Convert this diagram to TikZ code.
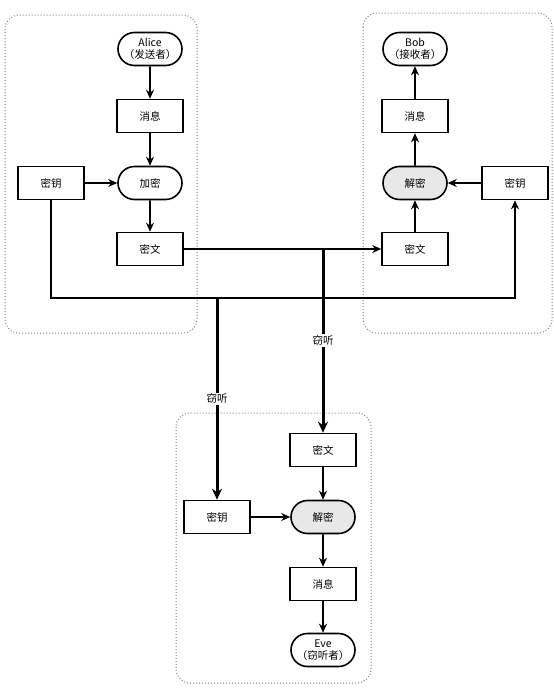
\documentclass[tikz,border=0pt]{standalone}
\usepackage{fontspec}
\setmainfont{Noto Sans CJK SC}
\usetikzlibrary{arrows.meta,shapes.misc,positioning}

\begin{document}
\begin{tikzpicture}[x=1pt,y=-1pt,>={Stealth[length=9pt,width=8pt]},line width=1.6pt,
    box/.style={draw,minimum width=66pt,minimum height=33pt,inner sep=1pt,
      font=\fontsize{10.5}{12.5}\selectfont},
    pill/.style={box,rounded rectangle,align=center},
    grey pill/.style={pill,fill=gray!18},
    frame/.style={draw=gray,dotted,line width=1pt,rounded corners=14pt},
    eaves/.style={line width=3pt,>={Stealth[length=11pt,width=10pt]}},
    tag/.style={fill=white,inner sep=1.5pt,font=\fontsize{10.5}{12.5}\selectfont}]
  % Page size
  \useasboundingbox (0,0) rectangle (554,694);
  %
  % Frames
  \draw[frame] (5,15) rectangle (197,333);
  \draw[frame] (363,13) rectangle (552,333);
  \draw[frame] (176,413) rectangle (371,683);
  %
  % Sender (Alice)
  \node[pill] (alice)   at (150,49)  {Alice\\（发送者）};
  \node[box]  (aliceM)  at (150,116) {消息};
  \node[pill] (enc)     at (150,183) {加密};
  \node[box]  (aliceK)  at (51,183)  {密钥};
  \node[box]  (aliceC)  at (150,249) {密文};
  %
  % Receiver (Bob)
  \node[pill]      (bob)  at (415,49)  {Bob\\（接收者）};
  \node[box]       (bobM) at (415,116) {消息};
  \node[grey pill] (dec)  at (415,183) {解密};
  \node[box]       (bobK) at (515,183) {密钥};
  \node[box]       (bobC) at (415,249) {密文};
  %
  % Eavesdropper (Eve)
  \node[box]       (eveC)   at (323,450) {密文};
  \node[box]       (eveK)   at (217,517) {密钥};
  \node[grey pill] (eveDec) at (323,517) {解密};
  \node[box]       (eveM)   at (323,584) {消息};
  \node[pill]      (eve)    at (323,650) {Eve\\（窃听者）};
  %
  % Alice side
  \draw[->] (alice) -- (aliceM);
  \draw[->] (aliceM) -- (enc);
  \draw[->] (aliceK) -- (enc);
  \draw[->] (enc) -- (aliceC);
  %
  % Bob side
  \draw[->] (bobC) -- (dec);
  \draw[->] (bobK) -- (dec);
  \draw[->] (dec) -- (bobM);
  \draw[->] (bobM) -- (bob);
  %
  % Channels
  \coordinate (bus) at (0,298);
  \draw[->] (aliceC) -- (bobC);
  \draw[->] (aliceK.south) -- (aliceK.south |- bus) -| (bobK.south);
  %
  % Eavesdropping
  \draw[eaves,->] (eveC |- aliceC) -- node[tag] {窃听} (eveC);
  \draw[eaves,->] (eveK |- bus) -- node[tag] {窃听} (eveK);
  %
  % Eve side
  \draw[->] (eveC) -- (eveDec);
  \draw[->] (eveK) -- (eveDec);
  \draw[->] (eveDec) -- (eveM);
  \draw[->] (eveM) -- (eve);
  %
\end{tikzpicture}
\end{document}
